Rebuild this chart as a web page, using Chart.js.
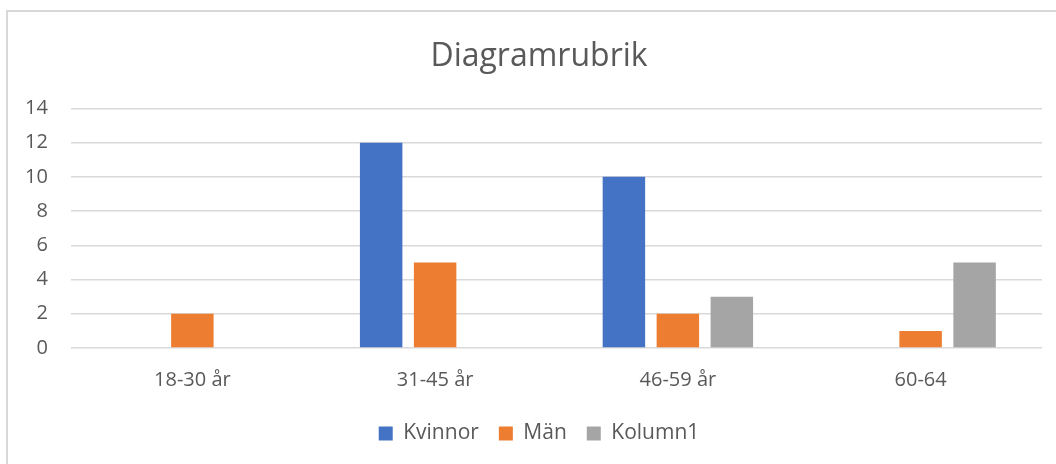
<!DOCTYPE html>
<html>
<head>
<meta charset="utf-8">
<script src="https://cdn.jsdelivr.net/npm/chart.js@4/dist/chart.umd.min.js"></script>
<style>
html,body{margin:0;padding:0;background:#fff;}
#wrap{width:1056px;height:464px;position:relative;}
</style>
</head>
<body>
<div id="wrap"><canvas id="c" width="1056" height="464"></canvas></div>
<script>
const categories = ['18-30 år', '31-45 år', '46-59 år', '60-64'];
const kvinnor = [null, 12, 10, null];
const man = [2, 5, 2, 1];
const kolumn1 = [null, null, 3, 5];
const seriesNames = ['Kvinnor', 'Män', 'Kolumn1'];
const titleText = 'Diagramrubrik';

const FONT = "'Open Sans', sans-serif";
const TEXT = '#595959';

const borderPlugin = {
  id: 'frame',
  beforeDraw(chart) {
    const ctx = chart.ctx;
    ctx.save();
    ctx.fillStyle = '#fff';
    ctx.fillRect(0, 0, chart.width, chart.height);
    ctx.strokeStyle = '#d9d9d9';
    ctx.lineWidth = 2;
    ctx.beginPath();
    ctx.moveTo(7, chart.height);
    ctx.lineTo(7, 11);
    ctx.lineTo(chart.width, 11);
    ctx.stroke();
    ctx.restore();
  }
};

new Chart(document.getElementById('c'), {
  type: 'bar',
  data: {
    labels: categories,
    datasets: [
      { label: seriesNames[0], data: kvinnor, backgroundColor: '#4472C4' },
      { label: seriesNames[1], data: man, backgroundColor: '#ED7D31' },
      { label: seriesNames[2], data: kolumn1, backgroundColor: '#A5A5A5' }
    ]
  },
  options: {
    responsive: false,
    animation: false,
    devicePixelRatio: 1,
    categoryPercentage: 0.667,
    barPercentage: 0.787,
    layout: { padding: { left: 36, right: 14, top: 0, bottom: 10 } },
    plugins: {
      title: {
        display: true,
        text: titleText,
        color: TEXT,
        font: { family: FONT, size: 32, weight: 'normal' },
        padding: { top: 38, bottom: 32 }
      },
      legend: {
        display: true,
        position: 'bottom',
        labels: {
          color: TEXT,
          font: { family: FONT, size: 21 },
          boxWidth: 14,
          boxHeight: 14,
          padding: 20
        }
      },
      tooltip: { enabled: false }
    },
    scales: {
      x: {
        grid: { display: false, drawTicks: false },
        border: { display: false },
        ticks: { color: TEXT, font: { family: FONT, size: 20 }, padding: 20, maxRotation: 0 },
        afterFit(scale) { scale.height = 55; }
      },
      y: {
        min: 0, max: 14,
        grid: { color: '#d9d9d9', lineWidth: 1.5, drawTicks: false },
        border: { display: false },
        ticks: { stepSize: 2, color: TEXT, font: { family: FONT, size: 20 }, mirror: true, crossAlign: 'far', padding: -46 },
        afterFit(scale) { scale.width = 35; }
      }
    }
  },
  plugins: [borderPlugin]
});
</script>
</body>
</html>
